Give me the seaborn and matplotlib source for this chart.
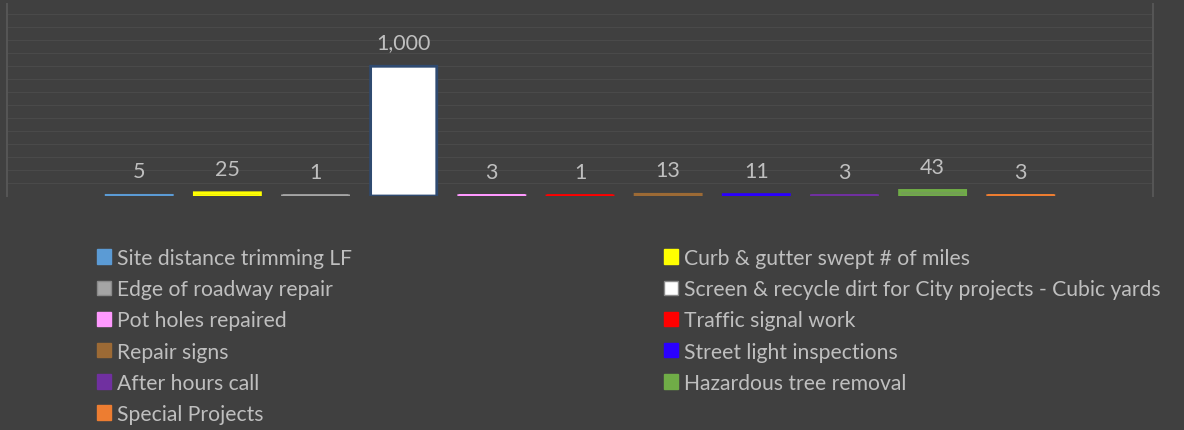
import matplotlib
matplotlib.use("Agg")
import matplotlib.pyplot as plt
import matplotlib.patches as mpatches
import pandas as pd
import seaborn as sns

categories = [
    "Site distance trimming LF",
    "Curb & gutter swept # of miles",
    "Edge of roadway repair",
    "Screen & recycle dirt for City projects - Cubic yards",
    "Pot holes repaired",
    "Traffic signal work",
    "Repair signs",
    "Street light inspections",
    "After hours call",
    "Hazardous tree removal",
    "Special Projects",
]
values = [5, 25, 1, 1000, 3, 1, 13, 11, 3, 43, 3]
colors = [
    "#5b9bd5", "#ffff00", "#a5a5a5", "#ffffff", "#ff99ff", "#ff0000",
    "#9c6a35", "#2a00ff", "#7030a0", "#70ad47", "#ed7d31",
]

BG = "#404040"
TXT = "#bfbfbf"

df = pd.DataFrame({"category": categories, "value": values})

sns.set_style("dark")
plt.rcParams["font.family"] = ["Lato", "DejaVu Sans"]

fig = plt.figure(figsize=(11.84, 4.31), dpi=100, facecolor=BG)
ax = fig.add_axes([7 / 1184, 1 - 197 / 431, (1153 - 7) / 1184, (197 - 5) / 431])
ax.set_facecolor(BG)

sns.barplot(data=df, x="category", y="value", hue="category",
            palette=colors, order=categories, hue_order=categories,
            dodge=False, legend=False, width=0.75, ax=ax)

# thin bars get an outline in their own colour so they stay visible, like the original
for cont, c in zip(ax.containers, colors):
    for patch in cont:
        patch.set_edgecolor("#2f4a70" if c == "#ffffff" else c)
        patch.set_linewidth(2)
        patch.set_snap(False)
        patch.set_joinstyle("miter")
    ax.bar_label(cont, labels=[f"{v:,.0f}" for v in cont.datavalues],
                 padding=10, color=TXT, fontsize=15.5)

ax.set_ylim(0, 1480)
ax.set_xlim(-1.5, 11.5)
ax.set_yticks(range(0, 1500, 100))
ax.set_yticklabels([])
ax.set_xticks([])
ax.set_xlabel("")
ax.set_ylabel("")
ax.grid(axis="y", color="#4a4a4a", linewidth=0.8)
ax.set_axisbelow(True)
for side in ["top", "bottom"]:
    ax.spines[side].set_visible(False)
for side in ["left", "right"]:
    ax.spines[side].set_color("#555555")
    ax.spines[side].set_linewidth(1.5)

handles = [mpatches.Patch(facecolor=c, edgecolor="#8a8a8a" if c in ("#a5a5a5", "#ffffff") else c,
                          label=lab) for c, lab in zip(colors, categories)]

leg_kw = dict(frameon=False, fontsize=15.2, labelcolor=TXT, handlelength=0.68,
              handleheight=0.68, handletextpad=0.25, labelspacing=0.53,
              borderaxespad=0, borderpad=0, loc="upper left")
fig.legend(handles=handles[0::2], bbox_to_anchor=(97 / 1184, 1 - 249 / 431), **leg_kw)
fig.legend(handles=handles[1::2], bbox_to_anchor=(664 / 1184, 1 - 249 / 431), **leg_kw)

fig.savefig("out.png", dpi=100, facecolor=BG)
